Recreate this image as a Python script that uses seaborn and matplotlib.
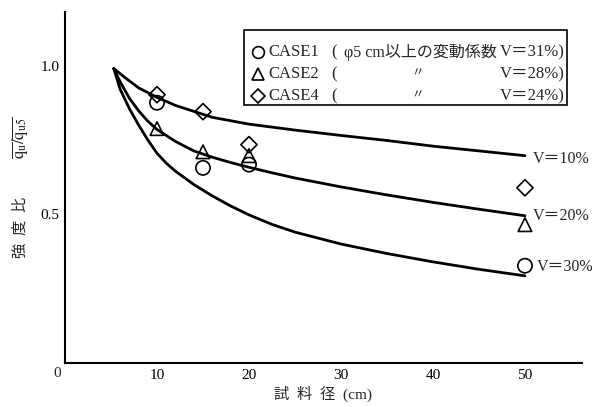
import numpy as np
import pandas as pd
import matplotlib
matplotlib.use('Agg')
import matplotlib.pyplot as plt
from matplotlib.patches import Rectangle
import seaborn as sns

# curves (specimen diameter cm, strength ratio)
v10_x = [5.3, 6.5, 8, 10, 12, 14, 16, 20, 25, 30, 35, 40, 45, 50]
v10_y = [0.99, 0.96, 0.925, 0.893, 0.866, 0.846, 0.826, 0.803, 0.783, 0.765, 0.748, 0.729, 0.713, 0.697]

v20_x = [5.3, 6, 7, 8, 9, 10, 12, 14, 16, 18, 20, 22, 25, 30, 35, 40, 45, 50]
v20_y = [0.99, 0.945, 0.89, 0.848, 0.813, 0.785, 0.745, 0.713, 0.692, 0.674, 0.658, 0.643, 0.622, 0.592, 0.565, 0.540, 0.517, 0.495]

v30_x = [5.3, 6, 7, 8, 9, 10, 11, 12, 14, 16, 18, 20, 22.5, 25, 30, 35, 40, 45, 50]
v30_y = [0.99, 0.92, 0.855, 0.80, 0.75, 0.705, 0.672, 0.645, 0.60, 0.562, 0.528, 0.498, 0.466, 0.44, 0.40, 0.368, 0.34, 0.315, 0.293]

# measured points
diam = [10, 15, 20, 50]
case1 = [0.875, 0.656, 0.667, 0.327]
case2 = [0.788, 0.710, 0.697, 0.465]
case4 = [0.902, 0.845, 0.734, 0.589]

curve_labels = ['V＝10%', 'V＝20%', 'V＝30%']
x_ticks = [10, 20, 30, 40, 50]
y_ticks = [0.5, 1.0]

sns.set_theme(style='white')
plt.rcParams['font.family'] = ['Liberation Serif', 'Noto Sans CJK JP', 'DejaVu Sans']
plt.rcParams['mathtext.fontset'] = 'stix'

fig = plt.figure(figsize=(5.96, 4.07), dpi=100)
ax = fig.add_axes([65 / 596, 44 / 407, 517 / 596, 351 / 407])

for xs, ys in [(v10_x, v10_y), (v20_x, v20_y), (v30_x, v30_y)]:
    sns.lineplot(x=xs, y=ys, ax=ax, color='black', linewidth=2.0, sort=False)

pts = dict(facecolors='none', edgecolors='black', linewidth=1.2, zorder=5)
sns.scatterplot(x=diam, y=case1, ax=ax, marker='o', s=105, **pts)
sns.scatterplot(x=diam, y=case2, ax=ax, marker='^', s=95, **pts)
sns.scatterplot(x=diam, y=case4, ax=ax, marker='D', s=68, **pts)

# labels at the curve ends
ax.text(50.9, v10_y[-1] - 0.01, curve_labels[0], fontsize=11.5, va='center', ha='left')
ax.text(50.9, v20_y[-1], curve_labels[1], fontsize=11.5, va='center', ha='left')
ax.text(51.3, case1[-1] - 0.004, curve_labels[2], fontsize=11.5, va='center', ha='left')

ax.set_xlim(0, 56.2)
ax.set_ylim(0, 1.18)
ax.set_xticks(x_ticks)
ax.set_xticklabels([str(t) for t in x_ticks])
ax.set_yticks(y_ticks)
ax.set_yticklabels(['%.1f' % t for t in y_ticks])
ax.tick_params(direction='in', length=6, width=1.2, labelsize=11, pad=4, colors='black')
for s in ['top', 'right']:
    ax.spines[s].set_visible(False)
for s in ['left', 'bottom']:
    ax.spines[s].set_linewidth(1.5)
    ax.spines[s].set_color('black')
ax.text(-0.008, -0.03, '0', transform=ax.transAxes, fontsize=11, ha='right', va='center')

ax.set_xlabel('試  料  径  (cm)', fontsize=11, labelpad=3)

# y label: kanji part and the overlined ratio as two texts
fig.text(20 / 596, 1 - 227 / 407, '強  度  比', rotation=90, fontsize=11,
         ha='center', va='center')
fig.text(20 / 596, 1 - 138 / 407, r'$\overline{\mathrm{q_u}}/\overline{\mathrm{q_{u5}}}$',
         rotation=90, fontsize=12, ha='center', va='center')


# legend box drawn by hand (pixel positions from the reference)
def px(x, y):
    return (x - 65) / 517, (363 - y) / 351


bx0, by0 = px(244, 105)
bx1, by1 = px(567, 30)
ax.add_patch(Rectangle((bx0, by0), bx1 - bx0, by1 - by0, transform=ax.transAxes,
                       fill=False, edgecolor='black', linewidth=1.2, clip_on=False))
rows = [52, 74, 96]
marks = ['o', '^', 'D']
msz = [8.5, 8.5, 7]
names = ['CASE1', 'CASE2', 'CASE4']
vals = ['V＝31%)', 'V＝28%)', 'V＝24%)']
for r, m, ms, n, v in zip(rows, marks, msz, names, vals):
    mx, my = px(258, r)
    ax.plot([mx], [my], marker=m, markersize=ms, mfc='none', mec='black', mew=1.2,
            transform=ax.transAxes, clip_on=False)
    tx, ty = px(268, r)
    ax.text(tx, ty, n, transform=ax.transAxes, fontsize=12, va='center', ha='left')
    ex, ey = px(565, r)
    ax.text(ex, ey, v, transform=ax.transAxes, fontsize=12, va='center', ha='right')
    ox, oy = px(331, r)
    ax.text(ox, oy, '(', transform=ax.transAxes, fontsize=12, va='center', ha='left')
    if n == 'CASE1':
        cx, cy = px(344, r)
        ax.text(cx, cy, 'φ5 cm以上の変動係数', transform=ax.transAxes, fontsize=11.5,
                va='center', ha='left')
    else:
        dx, dy = px(417, r)
        ax.text(dx, dy, '〃', transform=ax.transAxes, fontsize=9, va='center', ha='center')

fig.savefig('out.png', dpi=100)
